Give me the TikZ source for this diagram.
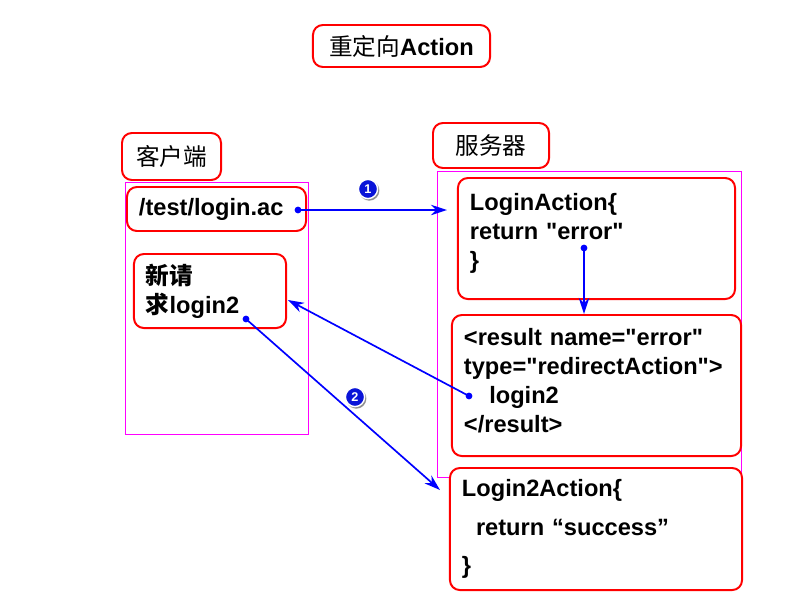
\documentclass[tikz,border=0pt]{standalone}
\usepackage{fontspec}
\setmainfont{Liberation Sans}
\newfontfamily\cjk{Noto Sans CJK SC}
\usepackage{tikz}
\usetikzlibrary{arrows.meta,shadows}
\definecolor{BoxRed}{HTML}{FF0000}
\definecolor{ZoneMag}{HTML}{FF00FF}
\definecolor{LinkBlue}{HTML}{0000FF}
\definecolor{BadgeBlue}{HTML}{0A14D8}
\newcommand{\qq}{\textquotedbl}

\begin{document}
\begin{tikzpicture}[
    x=0.025cm, y=-0.025cm,
    font=\fontsize{16.8}{20.6}\selectfont\bfseries,
    box/.style={draw=BoxRed, line width=1.4pt, rounded corners=7pt, fill=white, inner xsep=0.3cm, inner ysep=0pt},
    codebox/.style={box, align=left},
    zone/.style={draw=ZoneMag, line width=0.6pt, minimum width=#1, inner sep=0pt},
    link/.style={-{Stealth[length=0.4cm,width=0.26cm]}, LinkBlue, line width=1.2pt},
    dot/.style={circle, fill=LinkBlue, inner sep=0pt, minimum size=0.17cm},
    badge/.style={circle, draw=white, line width=1pt, fill=BadgeBlue, text=white, inner sep=0pt, minimum size=0.48cm, font=\fontsize{9}{9}\selectfont\bfseries, circular drop shadow={shadow xshift=0.7pt, shadow yshift=-0.9pt, fill=black!45}}
  ]
    \useasboundingbox (0,0) rectangle (800,600);

    \node[box, minimum width=4.425cm, minimum height=1.05cm] (title) at (401.5,46) {{\cjk\mdseries 重定向}Action};
    \node[box, minimum width=2.475cm, minimum height=1.175cm, font=\fontsize{16.8}{20.6}\selectfont] (clientlbl) at (171.5,156.5) {\cjk 客户端};
    \node[box, minimum width=2.9cm, minimum height=1.125cm, font=\fontsize{16.8}{20.6}\selectfont] (serverlbl) at (491,145.5) {\cjk 服务器};

    \node[zone=4.575cm, minimum height=6.3cm] (clientzone) at (216.5,308) {};
    \node[zone=7.6cm, minimum height=7.65cm] (serverzone) at (589,324) {};

    \node[codebox, text width=3.875cm, minimum height=1.1cm] (req1) at (216.5,209) {/test/login.ac};
    \node[codebox, text width=3.2cm, minimum height=1.85cm] (req2) at (210,291) {{\cjk 新请}\\{\cjk 求}login2};
    \node[codebox, text width=6.325cm, minimum height=3.025cm] (loginact) at (596.5,238.5) {LoginAction\{\\return \qq error\qq\\\}\\[-10pt]\mbox{}};
    \node[codebox, text width=6.625cm, minimum height=3.525cm] (result) at (596.5,385.5) {<result name=\qq error\qq\\type=\qq redirectAction\qq>\\\hspace*{18pt}login2\\</result>\\[-13pt]\mbox{}};
    \node[codebox, text width=6.7cm, minimum height=3.05cm] (login2act) at (596,529) {Login2Action\{\\[7pt]\hspace*{10pt}return “success”\\[7pt]\}};

    \node[dot] (d1) at (298,210) {};
    \node[dot] (d2) at (584,248) {};
    \node[dot] (d3) at (469,396) {};
    \node[dot] (d4) at (246,319) {};
    \coordinate (t1) at (447,210);
    \coordinate (t3) at (288,300);
    \coordinate (t4) at (440,490);

    \draw[link] (d1.center) -- (t1);
    \draw[link] (d2.center) -- (d2 |- result.north);
    \draw[link] (d3.center) -- (t3);
    \draw[link] (d4.center) -- (t4);

    \node[badge] (step1) at (368,189) {1};
    \node[badge] (step2) at (355,397) {2};
  \end{tikzpicture}
\end{document}
